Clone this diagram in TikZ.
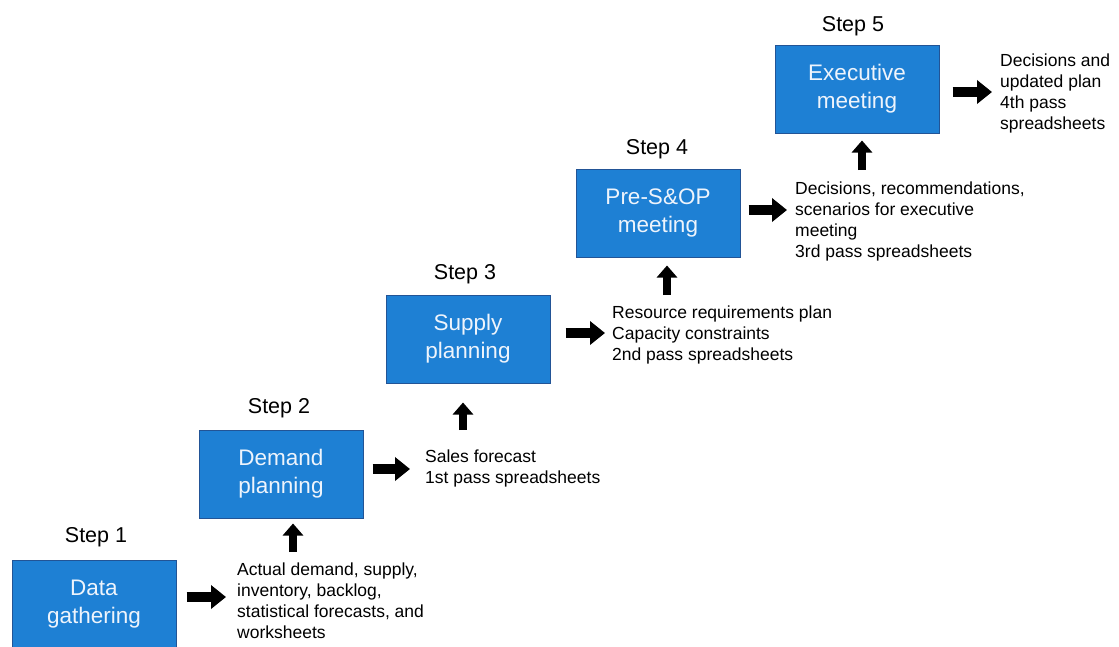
\documentclass[tikz,border=0pt]{standalone}
\usepackage{fontspec}
\setmainfont{Liberation Sans}
\usetikzlibrary{arrows.meta}
\definecolor{boxblue}{RGB}{30,128,212}
\definecolor{boxedge}{RGB}{34,84,150}
\definecolor{boxtext}{RGB}{238,244,252}
\tikzset{
  stepbox/.style={draw=boxedge, line width=1pt, fill=boxblue, text=boxtext,
    minimum width=164pt, minimum height=88pt, align=center, inner sep=0pt,
    font=\fontsize{22.5}{28}\selectfont},
  steplabel/.style={inner sep=0pt, font=\fontsize{21.5}{26}\selectfont},
  outtext/.style={anchor=north west, align=left, inner sep=0pt,
    font=\fontsize{17.5}{20.8}\selectfont},
  rarrow/.style={line width=10pt, -{Triangle[length=15pt,width=23pt]}},
  uarrow/.style={line width=8.5pt, -{Triangle[length=12pt,width=20pt]}}
}
\begin{document}
\begin{tikzpicture}[x=1pt,y=-1pt]
\useasboundingbox (0,0) rectangle (1119,646);
\begin{scope}
\clip (0,0) rectangle (1119,646);
% process steps
\node[stepbox] (b1) at (94,604) {Data\\gathering};
\node[stepbox] (b2) at (281,474) {Demand\\planning};
\node[stepbox] (b3) at (468,339) {Supply\\planning};
\node[stepbox] (b4) at (658,213) {Pre-S\&OP\\meeting};
\node[stepbox] (b5) at (857,89) {Executive\\meeting};
\end{scope}
% step headings
\node[steplabel] (s1) at (96,537) {Step 1};
\node[steplabel] (s2) at (279,408) {Step 2};
\node[steplabel] (s3) at (465,274) {Step 3};
\node[steplabel] (s4) at (657,149) {Step 4};
\node[steplabel] (s5) at (853,26) {Step 5};
% outputs of each step
\node[outtext] (t1) at (237,563) {Actual demand, supply,\\inventory, backlog,\\statistical forecasts, and\\worksheets};
\node[outtext] (t2) at (425,450) {Sales forecast\\1st pass spreadsheets};
\node[outtext] (t3) at (612,306) {Resource requirements plan\\Capacity constraints\\2nd pass spreadsheets};
\node[outtext] (t4) at (795,182) {Decisions, recommendations,\\scenarios for executive\\meeting\\3rd pass spreadsheets};
\node[outtext] (t5) at (1000,54) {Decisions and\\updated plan\\4th pass\\spreadsheets};
% step to output
\draw[rarrow, shorten <=10pt, shorten >=11pt] ([yshift=7pt]b1.east) -- ([yshift=7pt]b1.east -| t1.west);
\draw[rarrow, shorten <=9pt, shorten >=15pt] ([yshift=5pt]b2.east) -- ([yshift=5pt]b2.east -| t2.west);
\draw[rarrow, shorten <=15pt, shorten >=7pt] ([yshift=6pt]b3.east) -- ([yshift=6pt]b3.east -| t3.west);
\draw[rarrow, shorten <=8pt, shorten >=8pt] ([yshift=3pt]b4.east) -- ([yshift=3pt]b4.east -| t4.west);
\draw[rarrow, shorten <=13pt, shorten >=8pt] ([yshift=-3pt]b5.east) -- ([yshift=-3pt]b5.east -| t5.west);
% output feeds the next step
\draw[uarrow, shorten <=11pt, shorten >=5pt] ([xshift=12pt]b2.south |- t1.north) -- ([xshift=12pt]b2.south);
\draw[uarrow, shorten <=20pt, shorten >=19pt] ([xshift=-5pt]b3.south |- t2.north) -- ([xshift=-5pt]b3.south);
\draw[uarrow, shorten <=11pt, shorten >=8pt] ([xshift=9pt]b4.south |- t3.north) -- ([xshift=9pt]b4.south);
\draw[uarrow, shorten <=12pt, shorten >=7pt] ([xshift=5pt]b5.south |- t4.north) -- ([xshift=5pt]b5.south);
\end{tikzpicture}
\end{document}
